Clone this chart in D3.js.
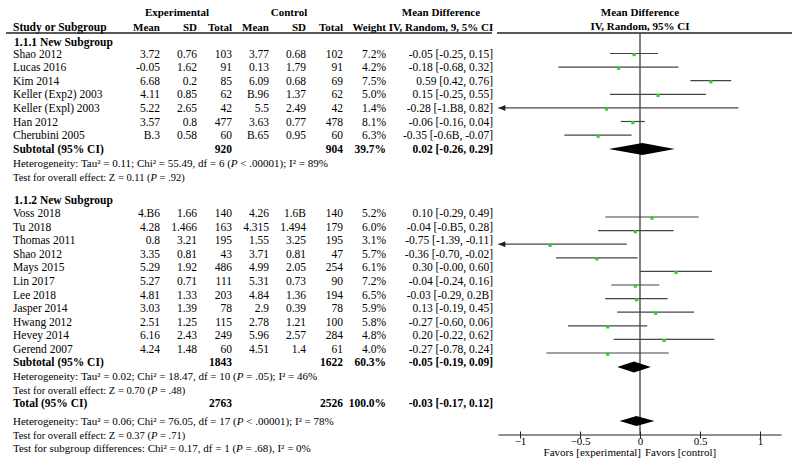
<!DOCTYPE html>
<html><head><meta charset="utf-8">
<script src="https://cdn.jsdelivr.net/npm/d3@7"></script>
<style>
html,body{margin:0;padding:0;background:#fff;}
svg text{font-family:"Liberation Serif","DejaVu Serif",serif;font-size:11.5px;fill:#000;}
.b{font-weight:bold;}
.hd{font-weight:bold;font-size:11px;}
</style></head>
<body>
<svg id="c" width="800" height="467"></svg>
<script>
// ---------- data ----------
const g1Names = ["Shao 2012","Lucas 2016","Kim 2014","Keller (Exp2) 2003","Keller (Expl) 2003","Han 2012","Cherubini 2005"];
const g1ExpMean = ["3.72","-0.05","6.68","4.11","5.22","3.57","B.3"];
const g1ExpSD = ["0.76","1.62","0.2","0.85","2.65","0.8","0.58"];
const g1ExpN = [103,91,85,62,42,477,60];
const g1CtlMean = ["3.77","0.13","6.09","B.96","5.5","3.63","B.65"];
const g1CtlSD = ["0.68","1.79","0.68","1.37","2.49","0.77","0.95"];
const g1CtlN = [102,91,69,62,42,478,60];
const g1Weight = ["7.2%","4.2%","7.5%","5.0%","1.4%","8.1%","6.3%"];
const g1CI = ["-0.05 [-0.25, 0.15]","-0.18 [-0.68, 0.32]","0.59 [0.42, 0.76]","0.15 [-0.25, 0.55]","-0.28 [-1.B8, 0.82]","-0.06 [-0.16, 0.04]","-0.35 [-0.6B, -0.07]"];
const g1MD = [-0.05,-0.18,0.59,0.15,-0.28,-0.06,-0.35];
const g1Lo = [-0.25,-0.68,0.42,-0.25,-1.38,-0.16,-0.63];
const g1Hi = [0.15,0.32,0.76,0.55,0.82,0.04,-0.07];
const g1Sub = {expN:"920", ctlN:"904", weight:"39.7%", ci:"0.02 [-0.26, 0.29]", md:0.02, lo:-0.26, hi:0.29};
const g1Het = "Heterogeneity: Tau² = 0.11; Chi² = 55.49, df = 6 (|P| < .00001); I² = 89%";
const g1Test = "Test for overall effect: Z = 0.11 (|P| = .92)";

const g2Names = ["Voss 2018","Tu 2018","Thomas 2011","Shao 2012","Mays 2015","Lin 2017","Lee 2018","Jasper 2014","Hwang 2012","Hevey 2014","Gerend 2007"];
const g2ExpMean = ["4.B6","4.28","0.8","3.35","5.29","5.27","4.81","3.03","2.51","6.16","4.24"];
const g2ExpSD = ["1.66","1.466","3.21","0.81","1.92","0.71","1.33","1.39","1.25","2.43","1.48"];
const g2ExpN = [140,163,195,43,486,111,203,78,115,249,60];
const g2CtlMean = ["4.26","4.315","1.55","3.71","4.99","5.31","4.84","2.9","2.78","5.96","4.51"];
const g2CtlSD = ["1.6B","1.494","3.25","0.81","2.05","0.73","1.36","0.39","1.21","2.57","1.4"];
const g2CtlN = [140,179,195,47,254,90,194,78,100,284,61];
const g2Weight = ["5.2%","6.0%","3.1%","5.7%","6.1%","7.2%","6.5%","5.9%","5.8%","4.8%","4.0%"];
const g2CI = ["0.10 [-0.29, 0.49]","-0.04 [-0.B5, 0.28]","-0.75 [-1.39, -0.11]","-0.36 [-0.70, -0.02]","0.30 [-0.00, 0.60]","-0.04 [-0.24, 0.16]","-0.03 [-0.29, 0.2B]","0.13 [-0.19, 0.45]","-0.27 [-0.60, 0.06]","0.20 [-0.22, 0.62]","-0.27 [-0.78, 0.24]"];
const g2MD = [0.10,-0.04,-0.75,-0.36,0.30,-0.04,-0.03,0.13,-0.27,0.20,-0.27];
const g2Lo = [-0.29,-0.35,-1.39,-0.70,-0.00,-0.24,-0.29,-0.19,-0.60,-0.22,-0.78];
const g2Hi = [0.49,0.28,-0.11,-0.02,0.60,0.16,0.23,0.45,0.06,0.62,0.24];
const g2Sub = {expN:"1843", ctlN:"1622", weight:"60.3%", ci:"-0.05 [-0.19, 0.09]", md:-0.05, lo:-0.19, hi:0.09};
const g2Het = "Heterogeneity: Tau² = 0.02; Chi² = 18.47, df = 10 (|P| = .05); I² = 46%";
const g2Test = "Test for overall effect: Z = 0.70 (|P| = .48)";

const total = {expN:"2763", ctlN:"2526", weight:"100.0%", ci:"-0.03 [-0.17, 0.12]", md:-0.03, lo:-0.17, hi:0.12};
const totHet = "Heterogeneity: Tau² = 0.06; Chi² = 76.05, df = 17 (|P| < .00001); I² = 78%";
const totTest = "Test for overall effect: Z = 0.37 (|P| = .71)";
const subTest = "Test for subgroup differences: Chi² = 0.17, df = 1 (|P| = .68), I² = 0%";

const tickVals = [-1,-0.5,0,0.5,1];
const favLeft = "Favors [experimental]";
const favRight = "Favors [control]";

// ---------- layout ----------
const svg = d3.select("#c");
const x = d3.scaleLinear().domain([-1,1]).range([520,760]);
const xMin = -1.18, xMax = 1.18;
const col = {name:13, em:160, esd:197, en:232, cm:269, csd:306, cn:343, w:386, ci:493};
const step = 13.6;
const g1Y = d3.range(g1Names.length).map(i => 53.5 + i*step);
const g2Y = d3.range(g2Names.length).map(i => 213 + i*step);
const g2Shift = 4;

function txt(xp, y, s, anchor, cls){
  const t = svg.append("text").attr("x", xp).attr("y", y+4).attr("text-anchor", anchor||"start");
  if (cls) t.attr("class", cls);
  const parts = s.split("|");
  parts.forEach((p,i)=>{ const ts=t.append("tspan").text(p); if(i%2===1) ts.attr("font-style","italic"); });
  return t;
}
function note(y, s, size){
  return txt(13, y, s).style("font-size", size + "px");
}

// headers
txt(177, 12, "Experimental", "middle", "hd");
txt(289, 12, "Control", "middle", "hd");
txt(441, 12, "Mean Difference", "middle", "hd");
txt(640, 12, "Mean Difference", "middle", "hd");
txt(col.name, 27, "Study or Subgroup", "start", "b");
txt(col.em, 27, "Mean", "end", "hd");
txt(col.esd, 27, "SD", "end", "hd");
txt(col.en, 27, "Total", "end", "hd");
txt(col.cm, 27, "Mean", "end", "hd");
txt(col.csd, 27, "SD", "end", "hd");
txt(col.cn, 27, "Total", "end", "hd");
txt(col.w, 27, "Weight", "end", "hd");
txt(441, 27, "IV, Random, 9, 5% CI", "middle", "hd");
txt(640, 25.5, "IV, Random, 95% CI", "middle", "hd");
svg.append("line").attr("x1",6).attr("x2",492).attr("y1",33).attr("y2",33).attr("stroke","#222").attr("stroke-width",1.3);
svg.append("line").attr("x1",497).attr("x2",792).attr("y1",33).attr("y2",33).attr("stroke","#222").attr("stroke-width",1.3);

// zero line
svg.append("line").attr("x1",x(0)).attr("x2",x(0)).attr("y1",33).attr("y2",435).attr("stroke","#555").attr("stroke-width",1.5);

function studyRows(names, em, esd, en, cm, csd, cn, w, ci, md, lo, hi, ys, shift){
  names.forEach((n,i)=>{
    const y = ys[i];
    txt(col.name, y, n);
    txt(col.em, y, em[i], "end");
    txt(col.esd, y, esd[i], "end");
    txt(col.en, y, String(en[i]), "end");
    txt(col.cm, y, cm[i], "end");
    txt(col.csd, y, csd[i], "end");
    txt(col.cn, y, String(cn[i]), "end");
    txt(col.w, y, w[i], "end");
    txt(col.ci, y, ci[i], "end");
    const py = y + shift;
    const l = Math.max(lo[i], xMin), h = Math.min(hi[i], xMax);
    svg.append("line").attr("x1",x(l)).attr("x2",x(h)).attr("y1",py).attr("y2",py)
      .attr("stroke","#444").attr("stroke-width",1.2);
    if (lo[i] < xMin){
      const ax = x(xMin);
      svg.append("path").attr("d",`M${ax},${py}L${ax+7},${py-3}L${ax+7},${py+3}Z`).attr("fill","#222");
    }
    svg.append("rect").attr("x",x(md[i])-1.5).attr("y",py-0.5).attr("width",3.2).attr("height",3.2).attr("fill","#2bd12b");
  });
}
function diamond(d, y, hh){
  svg.append("path").attr("d",`M${x(d.lo)},${y}L${x(d.md)},${y-hh}L${x(d.hi)},${y}L${x(d.md)},${y+hh}Z`).attr("fill","#000");
}
function subRow(label, d, y){
  txt(col.name, y, label, "start", "b");
  txt(col.en, y, d.expN, "end", "b");
  txt(col.cn, y, d.ctlN, "end", "b");
  txt(col.w, y, d.weight, "end", "b");
  txt(col.ci, y, d.ci, "end", "b");
}

// group 1
txt(14, 42, "1.1.1 New Subgroup", "start", "b");
studyRows(g1Names,g1ExpMean,g1ExpSD,g1ExpN,g1CtlMean,g1CtlSD,g1CtlN,g1Weight,g1CI,g1MD,g1Lo,g1Hi,g1Y,0);
subRow("Subtotal (95% CI)", g1Sub, 149);
diamond(g1Sub, 149, 6);
note(163, g1Het, 11);
note(177, g1Test, 10.5);

// group 2
txt(14, 199.5, "1.1.2 New Subgroup", "start", "b");
studyRows(g2Names,g2ExpMean,g2ExpSD,g2ExpN,g2CtlMean,g2CtlSD,g2CtlN,g2Weight,g2CI,g2MD,g2Lo,g2Hi,g2Y,g2Shift);
subRow("Subtotal (95% CI)", g2Sub, 362);
diamond(g2Sub, 367, 5.5);
note(376, g2Het, 11);
note(389.5, g2Test, 10.5);

// total
subRow("Total (95% CI)", total, 403);
diamond(total, 421, 5);
note(421, totHet, 11);
note(434.5, totTest, 10.5);
note(448, subTest, 11);

// axis
const axis = d3.axisBottom(x).tickValues(tickVals).tickFormat(d3.format("")).tickSize(3);
const ga = svg.append("g").attr("transform","translate(0,435)").call(axis);
ga.select(".domain").remove();
ga.append("line").attr("x1",x(xMin)).attr("x2",x(xMax)).attr("stroke","#222").attr("stroke-width",1.2);
ga.selectAll(".tick line").attr("y1",-3.5).attr("y2",3.5).attr("stroke","#222");
ga.selectAll(".tick text").attr("y",9.5).attr("dy",null).style("font-family","'Liberation Serif',serif").style("font-size","11px").attr("fill","#000");
svg.append("text").attr("x",641).attr("y",456).attr("text-anchor","end").style("font-size","11px").text(favLeft);
svg.append("text").attr("x",645).attr("y",456).attr("text-anchor","start").style("font-size","11px").text(favRight);
</script>
</body></html>
